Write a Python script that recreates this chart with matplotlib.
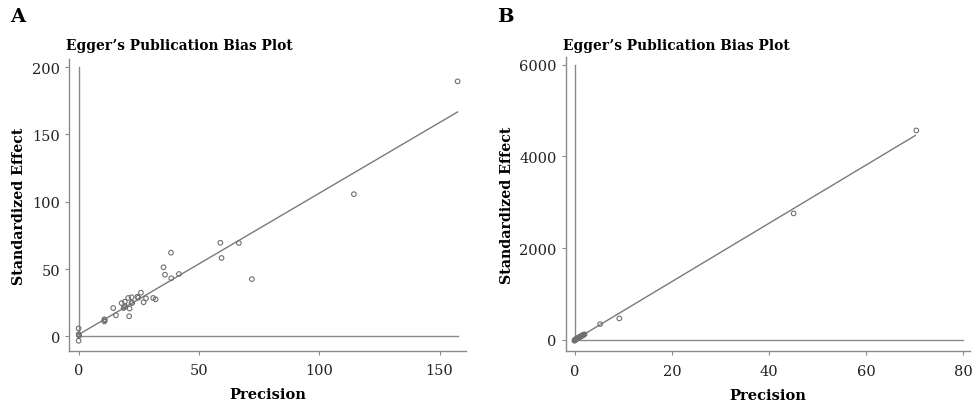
import matplotlib
matplotlib.use("Agg")
import matplotlib.pyplot as plt
import numpy as np

# ---------------- data ----------------
# Panel A
a_precision = [157.5, 114.4, 72.0, 66.6, 58.9, 59.4, 41.7, 38.4, 38.5, 35.3, 35.9,
               32.0, 31.0, 28.0, 27.0, 25.9, 24.8, 24.4, 22.0, 22.0, 22.3, 21.2,
               21.0, 20.6, 19.2, 19.0, 19.3, 18.7, 17.9, 15.5, 14.4, 10.7, 10.7,
               10.9, 0.0, 0.0, 0.1, 0.2, 0.05]
a_effect = [189.4, 105.6, 42.5, 69.3, 69.5, 58.2, 46.3, 62.1, 43.1, 51.3, 45.8,
            27.5, 28.5, 28.2, 25.3, 32.4, 28.7, 29.4, 29.0, 24.7, 24.9, 20.6,
            14.9, 28.5, 25.7, 21.8, 22.4, 21.0, 24.7, 15.6, 21.0, 11.0, 12.6,
            12.0, 5.9, -3.3, 1.0, 0.5, 1.5]
a_fit_intercept, a_fit_slope = 1.3, 1.05
a_fit_xmax = 157.5
a_xticks = [0, 50, 100, 150]
a_yticks = [0, 50, 100, 150, 200]
a_xlim = (-4.0, 161.0)
a_ylim = (-10.7, 206.0)
a_vref_top = 200
a_href_right = 157.5

# Panel B
b_precision = [70.4, 45.1, 9.15, 5.2, 0.0, 0.1, 0.2, 0.3, 0.4, 0.5, 0.6, 0.7, 0.8,
               0.9, 1.0, 1.1, 1.2, 1.3, 1.4, 1.5, 1.6, 1.7, 1.8, 2.0, -0.1, 0.05]
b_effect = [4567, 2757, 467, 342, 0, 5, 12, 18, 25, 30, 38, 44, 50, 55, 62, 68,
            75, 80, 86, 92, 98, 104, 110, 120, -20, -10]
b_fit_intercept, b_fit_slope = 0.0, 63.5
b_fit_xmax = 70.2
b_xticks = [0, 20, 40, 60, 80]
b_yticks = [0, 2000, 4000, 6000]
b_xlim = (-1.9, 81.5)
b_ylim = (-253, 6159)
b_vref_top = 6000
b_href_right = 80

title = "Egger\u2019s Publication Bias Plot"
xlabel = "Precision"
ylabel = "Standardized Effect"

# ---------------- drawing ----------------
plt.rcParams['font.family'] = ['DejaVu Serif']
fig = plt.figure(figsize=(9.77, 4.06), dpi=100)

grey = "#8a8a8a"
line_grey = "#7a7a7a"


def panel(rect, px, py, icpt, slope, fxmax, xt, yt, xl, yl, vtop, hright):
    ax = fig.add_axes(rect)
    ax.plot([0, 0], [0, vtop], color=grey, lw=1.0, zorder=1)
    ax.plot([0, hright], [0, 0], color=grey, lw=1.0, zorder=1)
    xs = np.array([0, fxmax])
    ax.plot(xs, icpt + slope * xs, color=line_grey, lw=1.0, zorder=2)
    ax.scatter(px, py, s=11, facecolors='none', edgecolors='#707070',
               linewidths=0.8, zorder=3)
    ax.set_xlim(*xl)
    ax.set_ylim(*yl)
    ax.set_xticks(xt)
    ax.set_yticks(yt)
    for s in ('top', 'right'):
        ax.spines[s].set_visible(False)
    for s in ('left', 'bottom'):
        ax.spines[s].set_color(grey)
        ax.spines[s].set_linewidth(1.0)
    ax.tick_params(axis='x', pad=6)
    ax.tick_params(direction='out', length=3, width=0.8, color=grey,
                   labelsize=10.5, labelcolor='#222222')
    ax.set_xlabel(xlabel, fontsize=10.5, fontweight='bold', labelpad=7)
    ax.set_ylabel(ylabel, fontsize=10.2, fontweight='bold', labelpad=4)
    return ax


axA = panel([0.0706, 0.1337, 0.4064, 0.7185], a_precision, a_effect,
            a_fit_intercept, a_fit_slope, a_fit_xmax, a_xticks, a_yticks,
            a_xlim, a_ylim, a_vref_top, a_href_right)
axB = panel([0.579, 0.132, 0.414, 0.724], b_precision, b_effect,
            b_fit_intercept, b_fit_slope, b_fit_xmax, b_xticks, b_yticks,
            b_xlim, b_ylim, b_vref_top, b_href_right)

fig.text(66 / 977, 1 - 46 / 406, title, fontsize=9.9, fontweight='bold',
         va='center', ha='left')
fig.text(562.7 / 977, 1 - 46 / 406, title, fontsize=9.9, fontweight='bold',
         va='center', ha='left')
fig.text(10 / 977, 1 - 17 / 406, "A", fontsize=14, fontweight='bold',
         va='center', ha='left')
fig.text(497 / 977, 1 - 17 / 406, "B", fontsize=14, fontweight='bold',
         va='center', ha='left')

fig.savefig("out.png", dpi=100)
